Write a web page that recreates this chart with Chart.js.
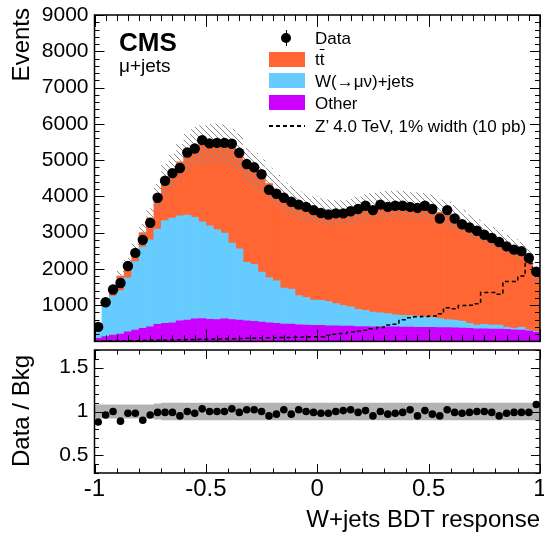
<!DOCTYPE html>
<html>
<head>
<meta charset="utf-8">
<script src="https://cdn.jsdelivr.net/npm/chart.js@4.4.1/dist/chart.umd.min.js"></script>
<style>
  html, body { margin: 0; padding: 0; background: #fff; }
  #wrap { position: relative; width: 544px; height: 534px; overflow: hidden;
          font-family: "Liberation Sans", Arial, sans-serif; color: #000; }
  #wrap canvas { position: absolute; left: 0; }
  .lbl { position: absolute; white-space: nowrap; line-height: 1; z-index: 2; }
  .box { position: absolute; width: 36px; height: 15px; z-index: 2; }
</style>
</head>
<body>
<div id="wrap">
  <canvas id="main" width="550" height="380" style="top:-20px;width:550px;height:380px"></canvas>
  <canvas id="ratio" width="550" height="214" style="top:320px;width:550px;height:214px"></canvas>

  <div class="lbl" style="left:9px;top:208px;width:200px;text-align:right;font-size:24px;transform:rotate(-90deg);transform-origin:0 0;">Events</div>
  <div class="lbl" style="left:9px;top:511px;width:200px;text-align:center;font-size:24px;transform:rotate(-90deg);transform-origin:0 0;">Data / Bkg</div>
  <div class="lbl" style="left:0;top:507px;width:540px;text-align:right;font-size:24px;">W+jets BDT response</div>

  <div class="lbl" style="left:119px;top:29px;font-size:26px;font-weight:bold;">CMS</div>
  <div class="lbl" style="left:119px;top:56px;font-size:19px;">μ+jets</div>

  <!-- legend -->
  <div style="position:absolute;left:285.5px;top:30px;width:1px;height:16px;background:#000;z-index:2"></div>
  <div style="position:absolute;left:281px;top:33px;width:10px;height:10px;border-radius:50%;background:#000;z-index:2"></div>
  <div class="lbl" style="left:315px;top:30px;font-size:17px;">Data</div>
  <div class="box" style="left:269px;top:52px;background:#ff6633"></div>
  <div class="lbl" style="left:315px;top:51px;font-size:17px;">t<span style="text-decoration:overline">t</span></div>
  <div class="box" style="left:269px;top:73px;background:#66ccff"></div>
  <div class="lbl" style="left:315px;top:73px;font-size:17px;">W(→μν)+jets</div>
  <div class="box" style="left:269px;top:95px;background:#cc00ff"></div>
  <div class="lbl" style="left:315px;top:95px;font-size:17px;">Other</div>
  <div style="position:absolute;left:269px;top:125px;width:36px;height:1.5px;z-index:2;background:repeating-linear-gradient(to right,#000 0 4px,transparent 4px 7px)"></div>
  <div class="lbl" style="left:315px;top:118px;font-size:17px;">Z’ 4.0 TeV, 1% width (10 pb)</div>
</div>

<script>
// histogram: 60 bins on [-1, 1]
const NBINS = 60;
const X_MIN = -1, X_MAX = 1;

const dataEvents = [
  400, 1080, 1430, 1610, 2080, 2440, 2800, 3270, 3960, 4430,
  4640, 4780, 5210, 5320, 5550, 5460, 5475, 5475, 5450, 5200,
  4890, 4800, 4610, 4180, 4070, 3960, 3850, 3770, 3710, 3620,
  3540, 3500, 3530, 3530, 3590, 3650, 3740, 3620, 3770, 3710,
  3740, 3740, 3710, 3680, 3740, 3650, 3390, 3620, 3390, 3230,
  3140, 3050, 2940, 2850, 2740, 2620, 2530, 2490, 2300, 1920
];
const ttbar = [
  50, 90, 200, 400, 380, 300, 400, 600, 880, 1120,
  1300, 1490, 1720, 1960, 2120, 2260, 2380, 2450, 2620, 2670,
  2670, 2600, 2650, 2590, 2510, 2510, 2440, 2500, 2490, 2500,
  2460, 2460, 2500, 2550, 2620, 2750, 2820, 2910, 2960, 3005,
  3050, 3050, 3030, 3050, 3045, 3020, 2930, 2900, 2830, 2740,
  2680, 2610, 2480, 2420, 2340, 2280, 2210, 2105, 2010, 1510
];
const wjets = [
  315, 900, 1075, 1200, 1485, 1890, 2240, 2400, 2630, 2835,
  2890, 2895, 2895, 2800, 2670, 2580, 2480, 2370, 2110, 1965,
  1615, 1570, 1380, 1250, 1175, 995, 965, 805, 760, 695,
  690, 670, 610, 570, 530, 470, 450, 410, 390, 365,
  330, 325, 315, 300, 290, 275, 250, 220, 215, 190,
  140, 100, 120, 110, 110, 60, 40, 75, 30, 20
];
const other = [
  85, 130, 175, 200, 265, 310, 360, 400, 470, 495,
  510, 565, 585, 620, 630, 610, 600, 620, 600, 585,
  565, 550, 530, 510, 495, 475, 475, 455, 450, 445,
  440, 430, 430, 420, 420, 410, 410, 400, 400, 400,
  400, 395, 395, 390, 385, 385, 380, 380, 375, 370,
  360, 350, 350, 340, 340, 330, 320, 310, 290, 250
];
const zprime = [
  0, 5, 10, 10, 15, 20, 25, 30, 30, 35,
  40, 45, 50, 55, 60, 60, 65, 70, 75, 80,
  85, 90, 95, 100, 100, 105, 110, 115, 120, 125,
  130, 170, 200, 220, 260, 290, 310, 350, 380, 450,
  470, 600, 650, 680, 690, 700, 760, 930, 900, 990,
  1000, 1040, 1350, 1350, 1300, 1650, 1650, 1800, 2150, 1950
];
const ratio = [
  0.88, 0.96, 1.00, 0.89, 0.98, 0.98, 0.90, 0.96, 0.99, 0.99,
  0.99, 0.95, 1.00, 0.98, 1.03, 1.00, 1.00, 1.00, 1.03, 0.99,
  1.02, 1.02, 1.00, 0.95, 0.97, 1.02, 0.97, 1.02, 1.00, 0.99,
  0.98, 0.98, 1.00, 1.01, 1.02, 0.99, 1.01, 0.95, 1.00, 0.97,
  0.98, 0.99, 1.02, 0.95, 1.01, 0.97, 0.95, 1.02, 0.99, 0.98,
  0.99, 1.00, 1.00, 0.99, 0.95, 0.98, 0.99, 0.99, 0.99, 1.08
];
// relative background uncertainty per bin
const bkgUnc = [
  0.08, 0.08, 0.08, 0.08, 0.08, 0.08, 0.08, 0.08, 0.09, 0.10,
  0.10, 0.10, 0.10, 0.10, 0.10, 0.10, 0.10, 0.10, 0.10, 0.10,
  0.10, 0.10, 0.10, 0.10, 0.10, 0.10, 0.10, 0.10, 0.10, 0.10,
  0.10, 0.10, 0.10, 0.10, 0.10, 0.10, 0.10, 0.10, 0.10, 0.10,
  0.10, 0.10, 0.10, 0.10, 0.10, 0.10, 0.10, 0.10, 0.10, 0.10,
  0.10, 0.10, 0.10, 0.10, 0.10, 0.10, 0.10, 0.10, 0.10, 0.10
];

const mainYTicks = [1000, 2000, 3000, 4000, 5000, 6000, 7000, 8000, 9000];
const ratioYTicks = [0.5, 1, 1.5];
const xTickValues = [-1, -0.5, 0, 0.5, 1];
const xTickLabels = ['-1', '-0.5', '0', '0.5', '1'];

const binW = (X_MAX - X_MIN) / NBINS;
const atCenters = arr => arr.map((v, i) => ({ x: X_MIN + (i + 0.5) * binW, y: v }));
const asSteps = arr => arr.map((v, i) => ({ x: X_MIN + i * binW, y: v }))
  .concat([{ x: X_MAX, y: arr[arr.length - 1] }]);

const bkgTotal = ttbar.map((v, i) => v + wjets[i] + other[i]);
const bandHi = bkgTotal.map((v, i) => v * (1 + bkgUnc[i]));
const bandLo = bkgTotal.map((v, i) => v * (1 - bkgUnc[i]));
const ratioHi = bkgUnc.map(u => 1 + u);
const ratioLo = bkgUnc.map(u => 1 - u);

function hatchPattern() {
  const n = 6;
  const c = document.createElement('canvas');
  c.width = n; c.height = n;
  const g = c.getContext('2d');
  g.strokeStyle = '#8a8a8a';
  g.lineWidth = 1;
  g.beginPath();
  g.moveTo(0, 0); g.lineTo(n, n);
  g.moveTo(-1, n - 1); g.lineTo(1, n + 1);
  g.moveTo(n - 1, -1); g.lineTo(n + 1, 1);
  g.stroke();
  return g.createPattern(c, 'repeat');
}

// ROOT style frame: ticks drawn inside on all four sides
const insideTicks = {
  id: 'insideTicks',
  afterDatasetsDraw(chart, args, o) {
    const { ctx, chartArea: a } = chart;
    const xs = chart.scales.x, ys = chart.scales.y;
    ctx.save();
    ctx.strokeStyle = '#000';
    ctx.lineWidth = 1;
    ctx.beginPath();
    for (let k = Math.ceil(xs.min / o.xStep - 1e-6); k <= Math.floor(xs.max / o.xStep + 1e-6); k++) {
      const px = Math.round(xs.getPixelForValue(k * o.xStep)) + 0.5;
      const len = k % o.xEvery === 0 ? o.xMajor : o.xMinor;
      ctx.moveTo(px, a.bottom); ctx.lineTo(px, a.bottom - len);
      ctx.moveTo(px, a.top); ctx.lineTo(px, a.top + len);
    }
    for (let k = Math.ceil(ys.min / o.yStep - 1e-6); k <= Math.floor(ys.max / o.yStep + 1e-6); k++) {
      const py = Math.round(ys.getPixelForValue(k * o.yStep)) + 0.5;
      const len = k % o.yEvery === 0 ? o.yMajor : o.yMinor;
      ctx.moveTo(a.left, py); ctx.lineTo(a.left + len, py);
      ctx.moveTo(a.right, py); ctx.lineTo(a.right - len, py);
    }
    ctx.stroke();
    ctx.lineWidth = 1.5;
    ctx.strokeRect(a.left, a.top, a.right - a.left, a.bottom - a.top);
    ctx.restore();
  }
};

Chart.defaults.font.family = '"Liberation Sans", Arial, sans-serif';
Chart.defaults.color = '#000';

const noLine = { borderColor: 'rgba(0,0,0,0)', borderWidth: 0, pointRadius: 0 };

new Chart(document.getElementById('main'), {
  type: 'bar',
  plugins: [insideTicks],
  data: {
    datasets: [
      { label: 'Other', data: atCenters(other), backgroundColor: '#cc00ff', stack: 'bkg', order: 4 },
      { label: 'W+jets', data: atCenters(wjets), backgroundColor: '#66ccff', stack: 'bkg', order: 4 },
      { label: 'ttbar', data: atCenters(ttbar), backgroundColor: '#ff6633', stack: 'bkg', order: 4 },
      { type: 'line', label: 'unc lo', data: asSteps(bandLo), stack: 'lo', stepped: true, fill: false, order: 3, ...noLine },
      { type: 'line', label: 'unc hi', data: asSteps(bandHi), stack: 'hi', stepped: true, fill: '-1',
        backgroundColor: hatchPattern(), order: 2, ...noLine },
      { type: 'line', label: 'Zprime', data: asSteps(zprime), stack: 'zp', stepped: true, fill: false,
        borderColor: '#000', borderWidth: 1.5, borderDash: [4, 3], pointRadius: 0, order: 1 },
      { type: 'line', label: 'Data', data: atCenters(dataEvents), stack: 'data', showLine: false,
        pointRadius: 5.2, pointBackgroundColor: '#000', pointBorderWidth: 0, order: 0 }
    ]
  },
  options: {
    responsive: false,
    animation: false,
    barPercentage: 1,
    categoryPercentage: 1,
    layout: { padding: { left: 0, right: 10, top: 35, bottom: 16 } },
    plugins: {
      legend: { display: false },
      tooltip: { enabled: false },
      insideTicks: { xStep: 0.05, xEvery: 10, xMajor: 12, xMinor: 6,
                     yStep: 200, yEvery: 5, yMajor: 10, yMinor: 5 }
    },
    scales: {
      x: { type: 'linear', min: X_MIN, max: X_MAX, offset: false, display: false },
      y: {
        stacked: true, min: 0, max: 9000,
        afterFit(s) { s.width = 94.5; },
        afterBuildTicks(s) { s.ticks = mainYTicks.map(v => ({ value: v })); },
        grid: { display: false, drawTicks: false },
        border: { display: false },
        ticks: { font: { size: 21 }, color: '#000', padding: 6, autoSkip: false, callback: v => String(v) }
      }
    }
  }
});

new Chart(document.getElementById('ratio'), {
  type: 'line',
  plugins: [insideTicks],
  data: {
    datasets: [
      { data: asSteps(ratioLo), stepped: true, fill: false, order: 2, ...noLine },
      { data: asSteps(ratioHi), stepped: true, fill: '-1', backgroundColor: '#b3b3b3', order: 1, ...noLine },
      { data: atCenters(ratio), showLine: false, pointRadius: 3.8, pointBackgroundColor: '#000',
        pointBorderWidth: 0, order: 0 }
    ]
  },
  options: {
    responsive: false,
    animation: false,
    layout: { padding: { left: 0, right: 10, top: 30, bottom: 0 } },
    plugins: {
      legend: { display: false },
      tooltip: { enabled: false },
      insideTicks: { xStep: 0.1, xEvery: 5, xMajor: 9, xMinor: 4.5,
                     yStep: 0.1, yEvery: 5, yMajor: 9, yMinor: 4.5 }
    },
    scales: {
      x: {
        type: 'linear', min: X_MIN, max: X_MAX, offset: false,
        afterFit(s) { s.height = 61; },
        afterBuildTicks(s) { s.ticks = xTickValues.map(v => ({ value: v })); },
        grid: { display: false, drawTicks: false },
        border: { display: false },
        ticks: { font: { size: 24 }, color: '#000', padding: 2, autoSkip: false, maxRotation: 0,
                 callback: (v, i) => xTickLabels[i] }
      },
      y: {
        min: 0.3, max: 1.7,
        afterFit(s) { s.width = 94.5; },
        afterBuildTicks(s) { s.ticks = ratioYTicks.map(v => ({ value: v })); },
        grid: { display: false, drawTicks: false },
        border: { display: false },
        ticks: { font: { size: 21 }, color: '#000', padding: 6, autoSkip: false, callback: v => String(v) }
      }
    }
  }
});
</script>
</body>
</html>
